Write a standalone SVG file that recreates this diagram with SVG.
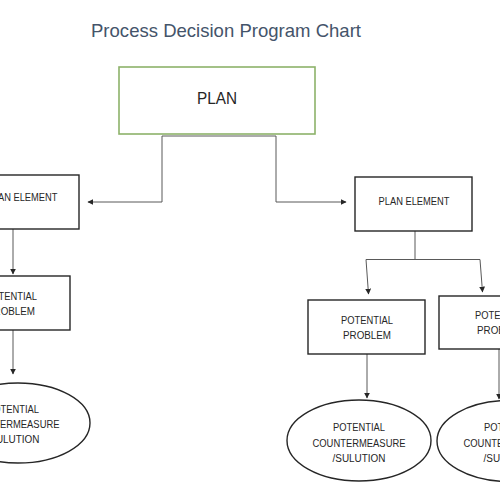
<svg xmlns="http://www.w3.org/2000/svg" width="500" height="500" viewBox="0 0 500 500">
<defs>
<style>
.box{fill:#fff;stroke:#262626;stroke-width:1.4}
.plan{fill:#fff;stroke:#8DB26A;stroke-width:1.6}
.con{fill:none;stroke:#595959;stroke-width:1}
.t{font-family:"Liberation Sans",Arial,sans-serif;font-size:10px;fill:#262626;text-anchor:middle}
.title{font-family:"Liberation Sans",Arial,sans-serif;font-size:18.5px;fill:#44546A}
</style>
<marker id="ah" viewBox="0 0 10 10" refX="9" refY="5" markerWidth="6" markerHeight="6" markerUnits="userSpaceOnUse" orient="auto">
<path d="M0,0 L10,5 L0,10 z" fill="#262626"/>
</marker>
</defs>
<rect width="500" height="500" fill="#fff"/>
<text id="title" class="title" x="91" y="37" textLength="270" lengthAdjust="spacingAndGlyphs">Process Decision Program Chart</text>

<g id="connectors">
<path class="con" d="M162,136 L276,136"/>
<path class="con" d="M162,136 L162,202 L88,202" marker-end="url(#ah)"/>
<path class="con" d="M276,136 L276,202 L346,202" marker-end="url(#ah)"/>
<path class="con" d="M13,229 L13,274" marker-end="url(#ah)"/>
<path class="con" d="M13,330 L13,374" marker-end="url(#ah)"/>
<path class="con" d="M415,231 L415,259.5"/>
<path class="con" d="M366,259.5 L480,259.5"/>
<path class="con" d="M366,259.5 L368.5,294" marker-end="url(#ah)"/>
<path class="con" d="M480,259.5 L482.5,292" marker-end="url(#ah)"/>
<path class="con" d="M367,354 L367,398" marker-end="url(#ah)"/>
<path class="con" d="M499,349 L499,399" marker-end="url(#ah)"/>
</g>

<g id="plan">
<rect class="plan" x="119" y="67" width="196" height="67"/>
<text class="t" x="217" y="104" style="font-size:17px" textLength="40" lengthAdjust="spacingAndGlyphs">PLAN</text>
</g>

<g id="plan-element-left">
<rect class="box" x="-36" y="175" width="115" height="54"/>
<text class="t" x="22" y="201" textLength="71" lengthAdjust="spacingAndGlyphs">PLAN ELEMENT</text>
</g>

<g id="plan-element-right">
<rect class="box" x="355" y="177" width="117" height="54"/>
<text class="t" x="414" y="205" textLength="71" lengthAdjust="spacingAndGlyphs">PLAN ELEMENT</text>
</g>

<g id="problem-left">
<rect class="box" x="-47" y="276" width="117" height="54"/>
<text class="t" x="11" y="300" textLength="52" lengthAdjust="spacingAndGlyphs">POTENTIAL</text>
<text class="t" x="11" y="315" textLength="48" lengthAdjust="spacingAndGlyphs">PROBLEM</text>
</g>

<g id="problem-right-1">
<rect class="box" x="308" y="300" width="117" height="54"/>
<text class="t" x="367" y="324" textLength="52" lengthAdjust="spacingAndGlyphs">POTENTIAL</text>
<text class="t" x="367" y="339" textLength="48" lengthAdjust="spacingAndGlyphs">PROBLEM</text>
</g>

<g id="problem-right-2">
<rect class="box" x="439" y="296" width="117" height="53"/>
<text class="t" x="501" y="319" textLength="52" lengthAdjust="spacingAndGlyphs">POTENTIAL</text>
<text class="t" x="501" y="334" textLength="48" lengthAdjust="spacingAndGlyphs">PROBLEM</text>
</g>

<g id="solution-left">
<ellipse class="box" cx="18" cy="423" rx="72" ry="40"/>
<text class="t" x="13" y="413" textLength="52" lengthAdjust="spacingAndGlyphs">POTENTIAL</text>
<text class="t" x="13" y="428" textLength="93" lengthAdjust="spacingAndGlyphs">COUNTERMEASURE</text>
<text class="t" x="13" y="443" textLength="53" lengthAdjust="spacingAndGlyphs">/SULUTION</text>
</g>

<g id="solution-right-1">
<ellipse class="box" cx="359" cy="440.5" rx="72" ry="40.5"/>
<text class="t" x="359" y="431" textLength="52" lengthAdjust="spacingAndGlyphs">POTENTIAL</text>
<text class="t" x="359" y="447" textLength="93" lengthAdjust="spacingAndGlyphs">COUNTERMEASURE</text>
<text class="t" x="359" y="462" textLength="53" lengthAdjust="spacingAndGlyphs">/SULUTION</text>
</g>

<g id="solution-right-2">
<ellipse class="box" cx="509" cy="441" rx="72" ry="40.5"/>
<text class="t" x="510" y="431" textLength="52" lengthAdjust="spacingAndGlyphs">POTENTIAL</text>
<text class="t" x="510" y="447" textLength="93" lengthAdjust="spacingAndGlyphs">COUNTERMEASURE</text>
<text class="t" x="510" y="462" textLength="53" lengthAdjust="spacingAndGlyphs">/SULUTION</text>
</g>
</svg>
